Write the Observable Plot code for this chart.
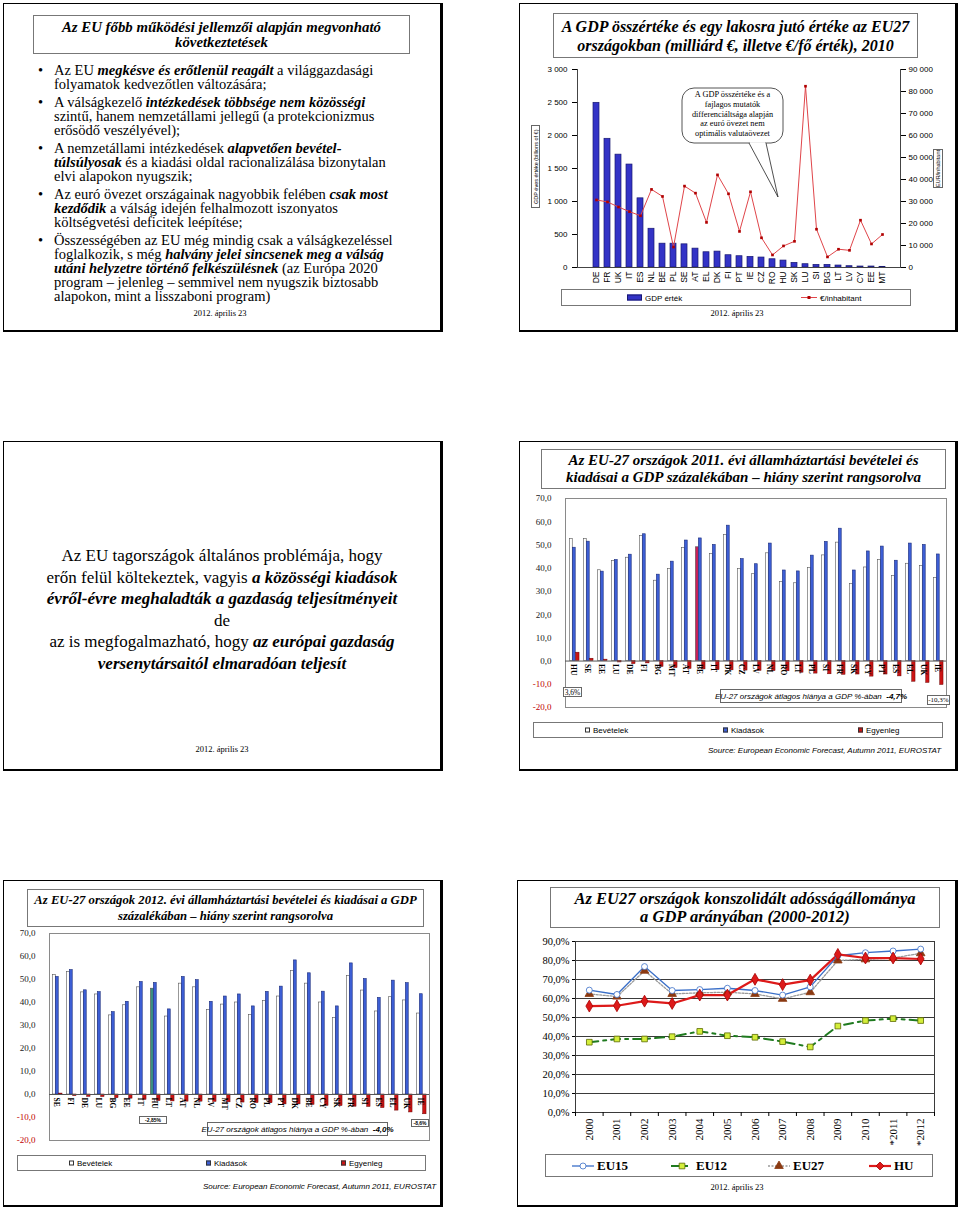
<!DOCTYPE html>
<html><head><meta charset="utf-8">
<script src="https://cdn.jsdelivr.net/npm/d3@7"></script>
<script src="https://cdn.jsdelivr.net/npm/@observablehq/plot@0.6"></script>
<style>
body{margin:0;background:#fff;}
#page{position:relative;width:960px;height:1209px;overflow:hidden;background:#fff;font-family:"Liberation Serif",serif;color:#000;}
.abs{position:absolute;}
.serif{font-family:"Liberation Serif",serif;}
.panel{position:absolute;border:1.5px solid #000;border-right-width:3px;border-bottom-width:2.5px;box-sizing:border-box;}
.tbox{position:absolute;border:1px solid #777;box-sizing:border-box;display:flex;align-items:center;justify-content:center;text-align:center;font-weight:bold;font-style:italic;font-family:"Liberation Serif",serif;background:#fff;white-space:nowrap;}
.date{position:absolute;font-size:8.5px;font-family:"Liberation Serif",serif;transform:translate(-50%,-50%);white-space:nowrap;}
.legend{position:absolute;border:1px solid #777;box-sizing:border-box;font-family:"Liberation Sans",Arial,sans-serif;font-size:8px;background:#fff;}
.legend .item{position:absolute;top:50%;transform:translateY(-50%);white-space:nowrap;display:flex;align-items:center;gap:3px;}
.sq{display:inline-block;width:5px;height:5px;box-sizing:border-box;border:0.8px solid #333;}
.note{position:absolute;border:1px solid #666;box-sizing:border-box;background:#fff;white-space:nowrap;display:flex;align-items:center;justify-content:center;z-index:5;}
.chart{position:absolute;}
.ov{z-index:6;}
.bul .b{position:relative;padding-left:16px;margin-bottom:4px;}
.bul .b .dot{position:absolute;left:0;}
.src{position:absolute;font-family:"Liberation Sans",Arial,sans-serif;font-style:italic;font-size:8px;white-space:nowrap;transform:translateY(-50%);}
.vbox{position:absolute;border:1px solid #666;box-sizing:border-box;font-family:"Liberation Sans",Arial,sans-serif;font-size:5.5px;writing-mode:vertical-rl;transform:rotate(180deg);display:flex;align-items:center;justify-content:center;white-space:nowrap;background:#fff;}
</style></head>
<body><div id="page">

<!-- Panel 1 -->
<div class="panel" style="left:3px;top:3px;width:440px;height:329px"></div>
<div class="tbox" style="left:33px;top:15px;width:377px;height:39px;font-size:14.8px;line-height:15px">Az EU főbb működési jellemzői alapján megvonható<br>következtetések</div>
<div class="abs bul serif" style="left:38px;top:63px;font-size:14.5px;line-height:14px;white-space:nowrap">
 <div class="b"><span class="dot">•</span>Az EU <b><i>megkésve és erőtlenül reagált</i></b> a világgazdasági<br>folyamatok kedvezőtlen változására;</div>
 <div class="b"><span class="dot">•</span>A válságkezelő <b><i>intézkedések többsége nem közösségi</i></b><br>szintű, hanem nemzetállami jellegű (a protekcionizmus<br>erősödő veszélyével);</div>
 <div class="b"><span class="dot">•</span>A nemzetállami intézkedések <b><i>alapvetően bevétel-</i></b><br><b><i>túlsúlyosak</i></b> és a kiadási oldal racionalizálása bizonytalan<br>elvi alapokon nyugszik;</div>
 <div class="b"><span class="dot">•</span>Az euró övezet országainak nagyobbik felében <b><i>csak most</i></b><br><b><i>kezdődik</i></b> a válság idején felhalmozott iszonyatos<br>költségvetési deficitek leépítése;</div>
 <div class="b"><span class="dot">•</span>Összességében az EU még mindig csak a válságkezeléssel<br>foglalkozik, s még <b><i>halvány jelei sincsenek meg a válság</i></b><br><b><i>utáni helyzetre történő felkészülésnek</i></b> (az Európa 2020<br>program – jelenleg – semmivel nem nyugszik biztosabb<br>alapokon, mint a lisszaboni program)</div>
</div>
<div class="date" style="left:220px;top:313px">2012. április 23</div>

<!-- Panel 2 -->
<div class="panel" style="left:519px;top:3px;width:439px;height:329px"></div>
<div class="tbox" style="left:553px;top:13px;width:365px;height:45px;font-size:16px;line-height:19px">A GDP összértéke és egy lakosra jutó értéke az EU27<br>országokban (milliárd €, illetve €/fő érték), 2010</div>
<div class="vbox" style="left:531px;top:125px;width:9px;height:83px">GDP éves értéke (billions of €)</div>
<div class="vbox" style="left:933px;top:149px;width:10px;height:39px">EUR/inhabitant</div>
<svg class="abs ov" style="left:680px;top:86px" width="110" height="115">
  <rect x="2" y="2" width="101" height="55" rx="12" ry="12" fill="#fff" stroke="#555" stroke-width="1"/>
  <path d="M69 57 L98 111 L86 57" fill="#fff" stroke="#222" stroke-width="0.8"/>
  <line x1="70" y1="57" x2="85" y2="57" stroke="#fff" stroke-width="1.6"/>
</svg>
<div class="abs ov serif" style="left:682px;top:90px;width:101px;text-align:center;font-size:8.3px;line-height:9.8px">A GDP összértéke és a<br>fajlagos mutatók<br>differenciáltsága alapján<br>az euró övezet nem<br>optimális valutaövezet</div>
<div class="legend" style="left:561px;top:289px;width:350px;height:17px">
  <span class="item" style="left:65px"><span style="display:inline-block;width:13px;height:4px;background:#3333c6;border:0.5px solid #181870"></span>GDP érték</span>
  <span class="item" style="left:239px"><svg width="16" height="6"><line x1="0" y1="3" x2="16" y2="3" stroke="#e0454a" stroke-width="1"/><rect x="6.5" y="1.5" width="3" height="3" fill="#b00000"/></svg>€/inhabitant</span>
</div>
<div class="date" style="left:737px;top:313px">2012. április 23</div>

<!-- Panel 3 -->
<div class="panel" style="left:3px;top:441px;width:440px;height:330px"></div>
<div class="abs serif" style="left:3px;width:438px;top:545px;text-align:center;font-size:17px;line-height:21.5px;white-space:nowrap">Az EU tagországok általános problémája, hogy<br>erőn felül költekeztek, vagyis <b><i>a közösségi kiadások</i></b><br><b><i>évről-évre meghaladták a gazdaság teljesítményeit</i></b><br>de<br>az is megfogalmazható, hogy <b><i>az európai gazdaság</i></b><br><b><i>versenytársaitól elmaradóan teljesít</i></b></div>
<div class="date" style="left:222px;top:749px">2012. április 23</div>

<!-- Panel 4 -->
<div class="panel" style="left:519px;top:441px;width:439px;height:330px"></div>
<div class="tbox" style="left:541px;top:449px;width:405px;height:40px;font-size:15px;line-height:17px">Az EU-27 országok 2011. évi államháztartási bevételei és<br>kiadásai a GDP százalékában – hiány szerint rangsorolva</div>
<div class="legend" style="left:533px;top:722px;width:410px;height:16px">
  <span class="item" style="left:51px"><span class="sq" style="background:#fff"></span>Bevételek</span>
  <span class="item" style="left:189px"><span class="sq" style="background:#3d5fd6"></span>Kiadások</span>
  <span class="item" style="left:324px"><span class="sq" style="background:#cc1414"></span>Egyenleg</span>
</div>
<div class="src" style="left:708px;top:750px">Source: European Economic Forecast, Autumn 2011, EUROSTAT</div>
<div id="n2011a" class="note serif" style="left:563px;top:687px;width:19px;height:10px;font-size:7.5px"></div>
<div id="n2011b" class="note" style="left:720px;top:689px;width:182px;height:14px;font-size:8px;font-family:'Liberation Sans',Arial,sans-serif;font-style:italic"></div>
<div id="n2011c" class="note serif" style="left:927px;top:695px;width:23px;height:10px;font-size:7px"></div>

<!-- Panel 5 -->
<div class="panel" style="left:3px;top:880px;width:440px;height:327px"></div>
<div class="tbox" style="left:27px;top:889px;width:397px;height:38px;font-size:12.7px;line-height:16px">Az EU-27 országok 2012. évi államháztartási bevételei és kiadásai a GDP<br>százalékában – hiány szerint rangsorolva</div>
<div class="legend" style="left:17px;top:1155px;width:409px;height:16px">
  <span class="item" style="left:51px"><span class="sq" style="background:#fff"></span>Bevételek</span>
  <span class="item" style="left:188px"><span class="sq" style="background:#3d5fd6"></span>Kiadások</span>
  <span class="item" style="left:323px"><span class="sq" style="background:#cc1414"></span>Egyenleg</span>
</div>
<div class="src" style="left:203px;top:1186px">Source: European Economic Forecast, Autumn 2011, EUROSTAT</div>
<div id="n2012a" class="note" style="left:139px;top:1116px;width:28px;height:8px;font-size:5px;font-family:'Liberation Sans',Arial,sans-serif;font-weight:bold"></div>
<div id="n2012b" class="note" style="left:207px;top:1122px;width:181px;height:14px;font-size:8px;font-family:'Liberation Sans',Arial,sans-serif;font-style:italic"></div>
<div id="n2012c" class="note" style="left:411px;top:1119px;width:18px;height:8px;font-size:5px;font-family:'Liberation Sans',Arial,sans-serif;font-weight:bold"></div>

<!-- Panel 6 -->
<div class="panel" style="left:517px;top:880px;width:441px;height:327px"></div>
<div class="tbox" style="left:550px;top:887px;width:390px;height:41px;font-size:16.5px;line-height:18px">Az EU27 országok konszolidált adósságállománya<br>a GDP arányában (2000-2012)</div>
<div class="legend" id="debtLegend" style="left:545px;top:1154px;width:388px;height:23px;font-family:'Liberation Serif',serif;font-size:13px;font-weight:bold"></div>
<div class="date" style="left:737px;top:1187px">2012. április 23</div>

</div>
<script>
// ---------- DATA ----------
// Chart: GDP 2010
const gdpCountries = ["DE","FR","UK","IT","ES","NL","BE","PL","SE","AT","EL","DK","FI","PT","IE","CZ","RO","HU","SK","LU","SI","BG","LT","LV","CY","EE","MT"];
const gdpBillion = [2495,1950,1710,1560,1048,587,361,361,351,286,231,241,186,171,161,151,125,105,70,50,40,40,30,20,15,15,10];
const gdpPerCapita = [30700,29800,27500,25400,23500,35500,32300,9300,37000,33800,20500,42100,33500,16400,34400,13500,5700,9800,11900,82400,17400,4800,8300,7800,21500,10700,15000];
const gdpLeftTicks = [0,500,1000,1500,2000,2500,3000];
const gdpRightTicks = [0,10000,20000,30000,40000,50000,60000,70000,80000,90000];

// Chart: budget 2011
const c2011 = ["HU","SE","EE","LU","DE","FI","BG","MT","AT","BE","IT","DK","CZ","LV","NL","RO","LT","PL","SI","FR","SK","CY","PT","ES","EL","UK","IE"];
const rev2011 = [52.6,52.5,39.1,43.0,44.5,53.8,34.6,39.7,48.6,49.0,46.1,54.3,39.6,37.4,46.4,34.1,33.5,40.0,45.5,51.0,33.2,40.3,43.6,36.7,41.9,40.9,35.7];
const exp2011 = [48.8,51.4,38.5,43.5,45.8,54.6,37.2,42.8,51.9,52.8,50.0,58.3,43.9,41.7,50.6,39.0,38.6,45.4,51.3,57.0,39.0,47.2,49.3,43.2,50.6,50.0,45.9];
const bal2011 = [3.6,1.0,0.6,-0.6,-1.3,-1.0,-2.5,-3.0,-3.4,-3.6,-3.9,-4.0,-4.1,-4.2,-4.3,-4.4,-5.0,-5.4,-5.7,-5.9,-5.8,-6.7,-5.8,-6.6,-8.9,-9.4,-10.3];
const highlight2011 = "BE";
const avgDeficit2011 = -4.7;

// Chart: budget 2012
const c2012 = ["SE","FI","DE","LU","BG","EE","IT","HU","LT","AT","NL","LV","MT","CZ","RO","PL","PT","DK","BE","CY","SK","FR","SI","ES","EL","UK","IE"];
const rev2012 = [52.0,53.3,44.4,43.5,34.4,38.8,46.6,46.0,33.9,48.2,46.6,36.8,39.1,40.0,34.5,40.7,42.6,53.7,48.2,40.0,33.3,51.5,45.2,36.1,42.3,40.9,35.2];
const exp2012 = [51.1,54.1,45.3,44.5,35.8,40.3,48.9,48.5,37.0,51.1,49.7,40.3,42.6,43.5,38.3,44.6,46.9,58.3,52.7,44.7,38.3,57.0,50.2,42.0,49.5,48.4,43.6];
const bal2012 = [0.4,-0.7,-1.0,-1.1,-1.6,-1.8,-2.3,-2.85,-3.0,-3.1,-3.1,-3.2,-3.4,-3.5,-3.7,-3.8,-4.3,-4.3,-4.5,-4.9,-5.0,-5.3,-5.4,-5.9,-7.0,-7.8,-8.6];
const highlight2012 = "HU";
const avgDeficit2012 = -4.0;
const pctTicks = [-20,-10,0,10,20,30,40,50,60,70];

// Chart: debt
const debtYears = [2000,2001,2002,2003,2004,2005,2006,2007,2008,2009,2010,2011,2012];
const debtYearLabels = ["2000","2001","2002","2003","2004","2005","2006","2007","2008","2009","2010","*2011","*2012"];
const debtEU15 = [64.4,62.1,76.8,64.2,64.7,65.4,64.2,61.8,66.1,82.5,84.1,85.0,86.0];
const debtEU12 = [37.0,38.7,38.7,39.9,42.7,40.4,39.6,37.3,34.5,45.5,48.4,49.4,48.4];
const debtEU27 = [62.4,61.0,74.6,62.4,63.0,63.3,62.4,59.8,63.3,80.0,80.6,81.3,83.8];
const debtHU = [56.0,56.2,58.6,57.4,61.8,61.8,70.1,67.3,69.7,83.2,81.3,81.3,80.8];
const debtTicks = [0,10,20,30,40,50,60,70,80,90];

// ---------- HELPERS ----------
const loc = d3.formatLocale({decimal:",", thousands:"\u00a0", grouping:[3], currency:["",""], minus:"-"});
const fmtInt = loc.format(",.0f");
const fmt1 = loc.format(".1f");
const fmt2 = loc.format(".2f");
const page = document.getElementById("page");
function place(node, left, top) {
  const w = document.createElement("div");
  w.className = "chart";
  w.style.left = left + "px"; w.style.top = top + "px";
  w.appendChild(node);
  page.appendChild(w);
}

// ---------- CHART 1: GDP ----------
const ratio = gdpRightTicks[gdpRightTicks.length-1] / gdpLeftTicks[gdpLeftTicks.length-1];
const gdpRows = gdpCountries.map((c,i)=>({c, gdp:gdpBillion[i], pc:gdpPerCapita[i]}));
const chartGdp = Plot.plot({
  width:430, height:233, marginLeft:52, marginRight:55, marginTop:7, marginBottom:28,
  style:{fontFamily:'"Liberation Sans", Arial, sans-serif', fontSize:"8px", background:"transparent", overflow:"visible"},
  x:{domain:gdpCountries, paddingInner:0.5, paddingOuter:0.25},
  y:{domain:[0,3000]},
  marks:[
    Plot.barY(gdpRows, {x:"c", y:"gdp", fill:"#3333c6", stroke:"#181870", strokeWidth:0.7}),
    Plot.line(gdpRows, {x:"c", y:d=>d.pc/ratio, stroke:"#e0454a", strokeWidth:1}),
    Plot.dot(gdpRows, {x:"c", y:d=>d.pc/ratio, symbol:"square", r:1.5, fill:"#b00000"}),
    Plot.frame({anchor:"left", stroke:"#444"}),
    Plot.frame({anchor:"right", stroke:"#444"}),
    Plot.ruleY([0], {stroke:"#444"}),
    Plot.axisY(gdpLeftTicks, {anchor:"left", tickSize:5, tickPadding:5, tickFormat:fmtInt, label:null}),
    Plot.axisY(gdpRightTicks.map(v=>v/ratio), {anchor:"right", tickSize:5, tickPadding:3, tickFormat:d=>fmtInt(d*ratio), label:null}),
    Plot.axisX({anchor:"bottom", tickSize:0, tickPadding:4, tickRotate:-90, fontSize:8.5, label:null})
  ]
});
place(chartGdp, 525, 62);

// ---------- BUDGET CHARTS ----------
function budgetChart(countries, rev, exp, bal, highlight, hColor, w, h, ml, mr, mt, mb) {
  const rows = countries.map((c,i)=>({c, rev:rev[i], exp:exp[i], bal:bal[i]}));
  const bw = (w-ml-mr)/countries.length;
  return Plot.plot({
    width:w, height:h, marginLeft:ml, marginRight:mr, marginTop:mt, marginBottom:mb,
    style:{fontFamily:'"Liberation Serif", serif', fontSize:"9px", background:"transparent", overflow:"visible"},
    x:{domain:countries, padding:0, axis:null},
    y:{domain:[-20,70]},
    marks:[
      Plot.frame({stroke:"#8a8a8a"}),
      Plot.barY(rows, {x:"c", y1:0, y2:"rev", insetLeft:bw*0.17, insetRight:bw*0.62, fill:d=>d.c===highlight?hColor:"#fff", stroke:"#555", strokeWidth:0.6}),
      Plot.barY(rows, {x:"c", y1:0, y2:"exp", insetLeft:bw*0.38, insetRight:bw*0.41, fill:"#3d5fd6", stroke:"#1b2c7a", strokeWidth:0.6}),
      Plot.barY(rows, {x:"c", y1:0, y2:"bal", insetLeft:bw*0.62, insetRight:bw*0.14, fill:"#cc1414", stroke:"#6a0000", strokeWidth:0.5}),
      Plot.ruleY([0], {stroke:"#555"}),
      Plot.text(rows, {x:"c", y:0, text:"c", rotate:90, textAnchor:"start", dy:3, dx:-1.5, fontSize:7.5, fontWeight:"bold"}),
      Plot.axisY(pctTicks.filter(v=>v>=0), {tickSize:0, tickPadding:14, tickFormat:fmt1, color:"#222", label:null}),
      Plot.axisY(pctTicks.filter(v=>v<0), {tickSize:0, tickPadding:14, tickFormat:fmt1, color:"#c00000", label:null})
    ]
  });
}
place(budgetChart(c2011, rev2011, exp2011, bal2011, highlight2011, "#c8205a", 436, 220, 45, 10, 8, 3), 520, 490);
place(budgetChart(c2012, rev2012, exp2012, bal2012, highlight2012, "#3a8f7f", 436, 218, 45, 11, 7, 4), 4, 926);

document.getElementById("n2011a").textContent = fmt1(bal2011[0]) + "%";
document.getElementById("n2011b").innerHTML = "EU-27 országok átlagos hiánya a GDP %-ában&nbsp;&nbsp;<b>" + fmt1(avgDeficit2011) + "%</b>";
document.getElementById("n2011c").textContent = fmt1(bal2011[bal2011.length-1]) + "%";
document.getElementById("n2012a").textContent = fmt2(bal2012[c2012.indexOf("HU")]) + "%";
document.getElementById("n2012b").innerHTML = "EU-27 országok átlagos hiánya a GDP %-ában&nbsp;&nbsp;<b>" + fmt1(avgDeficit2012) + "%</b>";
document.getElementById("n2012c").textContent = fmt1(bal2012[bal2012.length-1]) + "%";

// ---------- DEBT CHART ----------
const debtSeries = [
  {name:"EU27", values:debtEU27, stroke:"#9a9a9a", width:1.3, dash:"2,1.5", symbol:"triangle", r:3.2, fill:"#8b3a12", dotStroke:"#8b3a12"},
  {name:"EU15", values:debtEU15, stroke:"#3a6fc8", width:1.3, dash:null, symbol:"circle", r:3, fill:"#fff", dotStroke:"#3a6fc8"},
  {name:"EU12", values:debtEU12, stroke:"#1f7a1f", width:2, dash:"9,5,3,5", symbol:"square", r:3.2, fill:"#d4ee3a", dotStroke:"#5a6a00"},
  {name:"HU", values:debtHU, stroke:"#dd1a1a", width:2.2, dash:null, symbol:"diamond", r:3.6, fill:"#dd1a1a", dotStroke:"#aa0000"}
];
const debtMarks = [];
for (const s of debtSeries) {
  const rows = debtYears.map((y,i)=>({year:y, v:s.values[i]}));
  debtMarks.push(Plot.line(rows, {x:"year", y:"v", stroke:s.stroke, strokeWidth:s.width, strokeDasharray:s.dash}));
}
for (const s of debtSeries) {
  const rows = debtYears.map((y,i)=>({year:y, v:s.values[i]}));
  debtMarks.push(Plot.dot(rows, {x:"year", y:"v", symbol:s.symbol, r:s.r, fill:s.fill, stroke:s.dotStroke, strokeWidth:0.8}));
}
const bounds = debtYears.map(y=>y-0.5).concat([debtYears[debtYears.length-1]+0.5]);
const chartDebt = Plot.plot({
  width:429, height:220, marginLeft:55, marginRight:15, marginTop:9, marginBottom:40,
  style:{fontFamily:'"Liberation Serif", serif', fontSize:"10.5px", background:"transparent", overflow:"visible"},
  x:{type:"linear", domain:[bounds[0], bounds[bounds.length-1]]},
  y:{domain:[0,90]},
  marks:[
    Plot.gridY(debtTicks, {stroke:"#3a3a3a", strokeOpacity:1, strokeWidth:1}),
    Plot.frame({stroke:"#3a3a3a"}),
    Plot.axisY(debtTicks, {tickSize:3, tickPadding:3, tickFormat:d=>fmt1(d)+"%", label:null}),
    Plot.axisX(bounds, {tickSize:4, tickFormat:()=>"", label:null}),
    Plot.axisX(debtYears, {tickSize:0, tickPadding:6, tickRotate:-90, fontSize:11, tickFormat:d=>debtYearLabels[debtYears.indexOf(d)], label:null}),
    ...debtMarks
  ]
});
place(chartDebt, 520, 932);

// debt legend
const legendOrder = ["EU15","EU12","EU27","HU"];
const legendLeft = [26,125,222,323];
const lg = document.getElementById("debtLegend");
legendOrder.forEach((nm,i)=>{
  const s = debtSeries.find(d=>d.name===nm);
  const span = document.createElement("span");
  span.className = "item";
  span.style.left = legendLeft[i] + "px";
  const sym = d3.symbol().type({circle:d3.symbolCircle,square:d3.symbolSquare,triangle:d3.symbolTriangle,diamond:d3.symbolDiamond2}[s.symbol]).size(s.r*s.r*Math.PI)();
  span.innerHTML = `<svg width="22" height="10"><line x1="0" y1="5" x2="22" y2="5" stroke="${s.stroke}" stroke-width="${s.width}" ${s.dash?`stroke-dasharray="${s.dash}"`:""}/><path d="${sym}" transform="translate(11,5)" fill="${s.fill}" stroke="${s.dotStroke}" stroke-width="0.8"/></svg>${nm}`;
  lg.appendChild(span);
});
</script>
</body></html>
